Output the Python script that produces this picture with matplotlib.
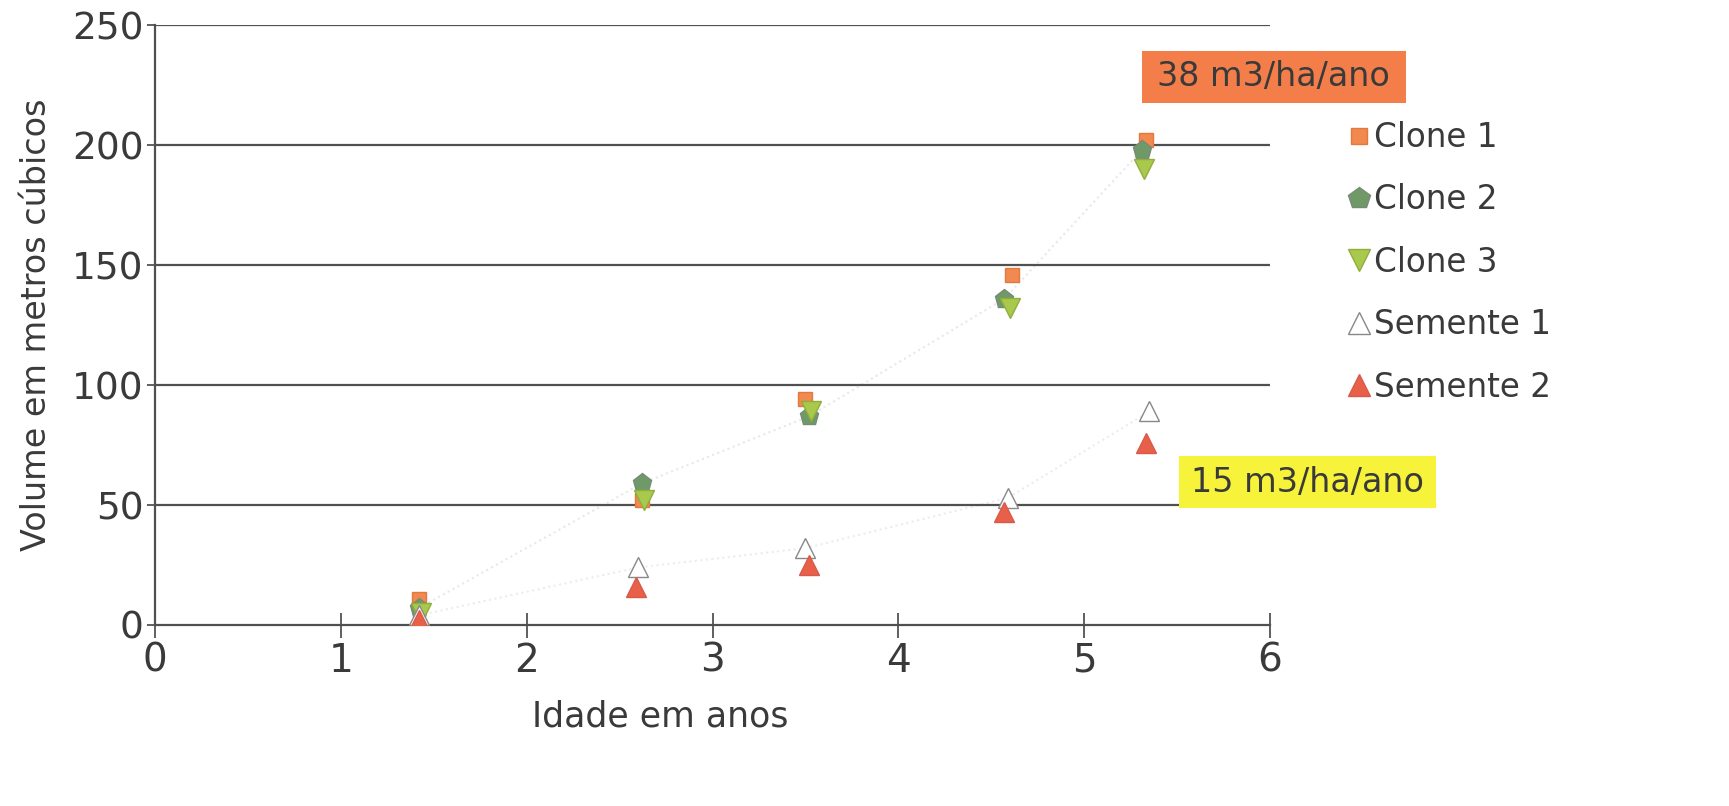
import matplotlib
matplotlib.use("Agg")
import matplotlib.pyplot as plt
from matplotlib.patches import Rectangle

plt.rcParams['font.family'] = ['DejaVu Sans']

# idade (anos) e volume (m3)
clone1_x = [1.42, 2.62, 3.50, 4.61, 5.33]
clone1_y = [11, 52, 94, 146, 202]
clone2_x = [1.42, 2.62, 3.52, 4.57, 5.31]
clone2_y = [7, 59, 87, 136, 198]
clone3_x = [1.43, 2.63, 3.53, 4.60, 5.32]
clone3_y = [5, 52, 89, 132, 190]
semente1_x = [1.42, 2.60, 3.50, 4.59, 5.35]
semente1_y = [4, 24, 32, 53, 89]
semente2_x = [1.42, 2.59, 3.52, 4.57, 5.33]
semente2_y = [2, 16, 25, 47, 76]

labels = ['Clone 1', 'Clone 2', 'Clone 3', 'Semente 1', 'Semente 2']
x_ticks = [0, 1, 2, 3, 4, 5, 6]
y_ticks = [0, 50, 100, 150, 200, 250]

fig = plt.figure(figsize=(17.29, 8.06), dpi=100)
ax = fig.add_axes([0.0896, 0.2246, 0.645, 0.744])

# linhas de tendencia quase apagadas
ax.plot(clone2_x, clone2_y, ':', color='#e8e8e8', lw=1.5, zorder=1)
ax.plot(semente1_x, semente1_y, ':', color='#ececec', lw=1.5, zorder=1)

ax.plot(clone1_x, clone1_y, 's', ms=10, color='#f28a50', mec='#e07a40', ls='none', label=labels[0], zorder=3)
ax.plot(clone2_x, clone2_y, 'p', ms=14, color='#6f9a68', mec='#7a8a78', ls='none', label=labels[1], zorder=3)
ax.plot(clone3_x, clone3_y, 'v', ms=14, color='#a9c94c', mec='#8fae3c', ls='none', label=labels[2], zorder=3)
ax.plot(semente1_x, semente1_y, '^', ms=14, color='white', mec='#888888', mew=1, ls='none', label=labels[3], zorder=3)
ax.plot(semente2_x, semente2_y, '^', ms=14, color='#e8604a', mec='#d85a48', ls='none', label=labels[4], zorder=3)

ax.set_xlim(0, 6)
ax.set_ylim(0, 250)
ax.set_xticks(x_ticks)
ax.set_yticks(y_ticks)
ax.tick_params(axis='x', labelsize=28, direction='inout', length=18, width=1.2, colors='#444444', pad=3)
ax.tick_params(axis='y', labelsize=27, direction='out', length=6, width=1.2, colors='#444444', pad=2)
for lab in ax.get_xticklabels() + ax.get_yticklabels():
    lab.set_color('#3a3a3a')

for v in y_ticks[1:]:
    ax.axhline(v, color='#505050', lw=1.6, zorder=2)

for s in ['top', 'right']:
    ax.spines[s].set_visible(False)
for s in ['left', 'bottom']:
    ax.spines[s].set_color('#505050')
    ax.spines[s].set_linewidth(1.6)

ax.set_xlabel('Idade em anos', fontsize=25, color='#3a3a3a')
ax.xaxis.set_label_coords(0.453, -0.125)
ax.set_ylabel('Volume em metros cúbicos', fontsize=24, color='#3a3a3a', labelpad=14)

leg = fig.legend(loc='upper left', bbox_to_anchor=(0.773, 0.866), frameon=False,
                 fontsize=23.5, handlelength=0.6, handletextpad=0.15, labelspacing=0.9,
                 borderaxespad=0, markerscale=1.15)
for t in leg.get_texts():
    t.set_color('#3a3a3a')

# caixas coloridas com as taxas de crescimento
ax.add_patch(Rectangle((5.31, 217.8), 1.42, 21.5, fc='#f47e4a', ec='none', clip_on=False, zorder=4))
ax.text(6.02, 228.5, '38 m3/ha/ano', fontsize=24, color='#3a3a3a', ha='center', va='center',
        clip_on=False, zorder=5)
ax.add_patch(Rectangle((5.51, 48.8), 1.38, 21.5, fc='#f7f23a', ec='none', clip_on=False, zorder=4))
ax.text(6.20, 59.5, '15 m3/ha/ano', fontsize=24, color='#3a3a3a', ha='center', va='center',
        clip_on=False, zorder=5)

fig.savefig('out.png', dpi=100, facecolor='white')
